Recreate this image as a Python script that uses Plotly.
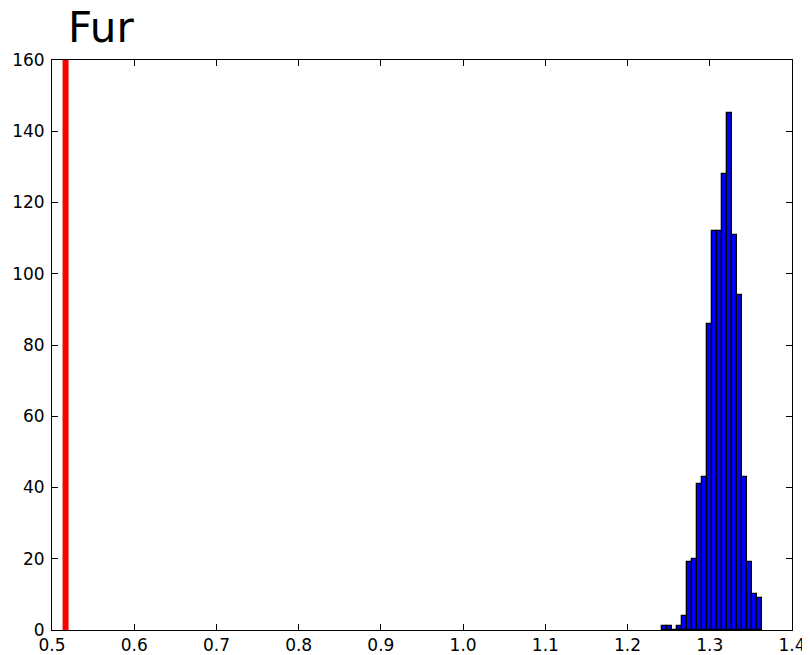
import plotly.graph_objects as go

title_text = "Fur"
bin_start = 1.2415
bin_width = 0.00612
counts = [1, 1, 0, 1, 4, 19, 20, 41, 43, 86, 112, 112, 128, 145, 111, 94, 43, 19, 10, 9]
observed_value = 0.5165
x_ticks = [0.5, 0.6, 0.7, 0.8, 0.9, 1.0, 1.1, 1.2, 1.3, 1.4]
y_ticks = [0, 20, 40, 60, 80, 100, 120, 140, 160]

centers = [bin_start + bin_width * (i + 0.5) for i in range(len(counts))]

fig = go.Figure()
fig.add_trace(go.Bar(
    x=centers, y=counts, width=[bin_width] * len(counts),
    marker=dict(color="#0000ff", line=dict(color="black", width=1.3)),
    showlegend=False, hoverinfo="skip",
))
fig.add_trace(go.Scatter(
    x=[observed_value, observed_value], y=[0, 160], mode="lines",
    line=dict(color="#ff0000", width=6), showlegend=False, hoverinfo="skip",
))

axis_common = dict(
    showgrid=False, zeroline=False, showline=True, linecolor="black", linewidth=1,
    mirror="ticks", ticks="inside", ticklen=6, tickwidth=1, tickcolor="black",
    tickfont=dict(family="DejaVu Sans", size=17, color="black"), automargin=False,
)
fig.update_xaxes(range=[0.5, 1.4], tickvals=x_ticks,
                 ticktext=[f"{v:.1f}" for v in x_ticks], **axis_common)
fig.update_yaxes(range=[0, 160], tickvals=y_ticks,
                 ticktext=[str(v) for v in y_ticks], ticklabelstandoff=3, **axis_common)

W, H = 802, 647
fig.update_layout(
    width=W, height=H,
    margin=dict(l=44, r=18, t=52, b=25, pad=0),
    plot_bgcolor="white", paper_bgcolor="white",
    bargap=0,
    title=dict(text=title_text, font=dict(family="DejaVu Sans", size=42, color="black"),
               x=60 / W, xanchor="left", xref="container", pad=dict(l=0, r=0, t=0, b=0),
               y=1 - 19 / H, yanchor="middle", yref="container"),
)

fig.write_html("out.html")
